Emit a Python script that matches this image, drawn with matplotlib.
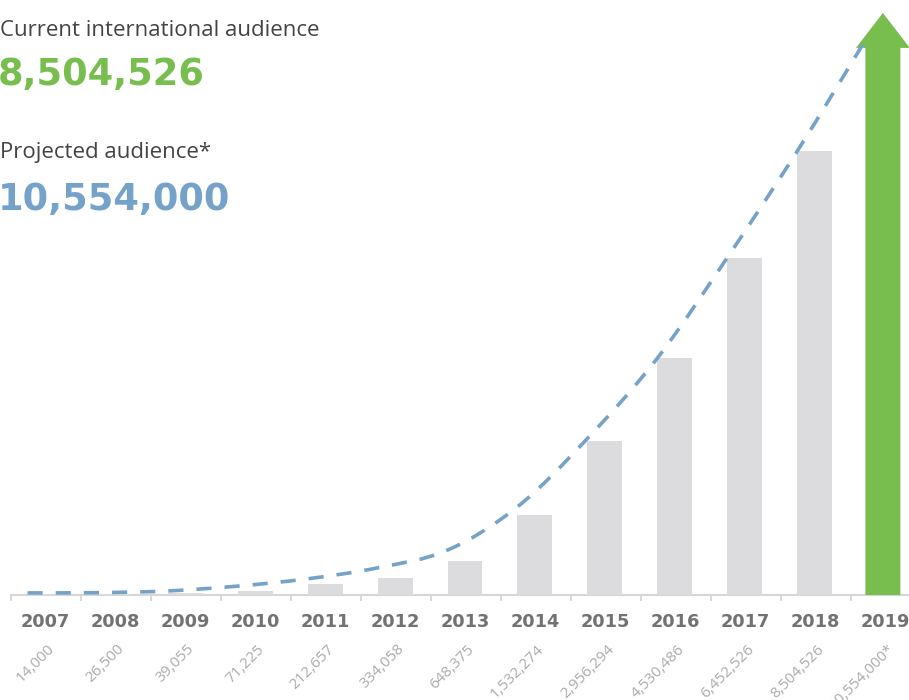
import matplotlib
matplotlib.use("Agg")
import matplotlib.pyplot as plt
from matplotlib.patches import FancyArrow, PathPatch
from matplotlib.path import Path
import numpy as np

plt.rcParams['font.family'] = ['Open Sans', 'DejaVu Sans']
bold_font = ['DejaVu Sans']

years = ['2007', '2008', '2009', '2010', '2011', '2012', '2013',
         '2014', '2015', '2016', '2017', '2018', '2019']
audience = [14000, 26500, 39055, 71225, 212657, 334058, 648375,
            1532274, 2956294, 4530486, 6452526, 8504526]
projected = 10554000
value_labels = ['14,000', '26,500', '39,055', '71,225', '212,657', '334,058',
                '648,375', '1,532,274', '2,956,294', '4,530,486', '6,452,526',
                '8,504,526', '10,554,000*']
# dashed growth trend (one point per year)
trend = [40000, 45000, 77000, 170000, 310000, 520000, 860000,
         1690000, 3000000, 4540000, 6470000, 8510000, 10540000]

green = '#78BE4E'
blue = '#75A2C8'
bar_gray = '#DCDCDE'

fig = plt.figure(figsize=(9.09, 7), dpi=100)
ax = fig.add_axes([0, 0, 1, 1])
ax.set_xlim(-0.643, 12.343)
ax.set_ylim(-2.0115e6, 11.398e6)
ax.axis('off')

x = np.arange(len(years))
bw = 0.5

# grey bars for actual audience
ax.bar(x[:-1], audience, width=bw, color=bar_gray, zorder=2)

# green arrow for the projection
ax.add_patch(FancyArrow(x[-1] - 0.03, 0, 0, 11.15e6, width=bw, head_width=0.77,
                        head_length=0.67e6, length_includes_head=True,
                        color=green, lw=0, zorder=2))

# smooth dashed trend (catmull-rom through the trend points)
tx = x - bw / 2
tx = tx.astype(float)
tx[-1] -= 0.07
pts = np.column_stack([tx, trend])
ext = np.vstack([pts[0], pts, pts[-1]])
verts = [pts[0]]
codes = [Path.MOVETO]
for i in range(1, len(ext) - 2):
    p0, p1, p2, p3 = ext[i - 1], ext[i], ext[i + 1], ext[i + 2]
    verts += [p1 + (p2 - p0) / 6, p2 - (p3 - p1) / 6, p2]
    codes += [Path.CURVE4] * 3
ax.add_patch(PathPatch(Path(verts, codes), fill=False, edgecolor=blue, lw=2.6,
                       linestyle=(0, (4.2, 3.6)), capstyle='butt', zorder=3))

# baseline + ticks
ticks = np.arange(len(years) + 1) - 0.48
ax.plot([ticks[0], 12.343], [0, 0], color='#D6D6D6', lw=1.5, zorder=1)
ax.vlines(ticks, -115000, 0, color='#D6D6D6', lw=1.3, zorder=1)

# year labels and values
for i, yr in enumerate(years):
    ax.text(x[i], 1 - 622 / 700, yr, transform=ax.get_xaxis_transform(),
            ha='center', va='center', fontsize=12.8, fontweight='bold',
            family=bold_font, color='#727272')
    ax.text(x[i] + 0.1, 1 - 647 / 700, value_labels[i],
            transform=ax.get_xaxis_transform(), rotation=45,
            rotation_mode='anchor', ha='right', va='center',
            fontsize=11, color='#ABABAB')

# headline text
fig.text(0, 1 - 36 / 700, 'Current international audience', fontsize=16,
         color='#444444', ha='left', va='baseline')
fig.text(-0.002, 1 - 85 / 700, '8,504,526', fontsize=26.5, fontweight='bold',
         family=bold_font, color=green, ha='left', va='baseline')
fig.text(0, 1 - 158 / 700, 'Projected audience*', fontsize=16,
         color='#444444', ha='left', va='baseline')
fig.text(-0.002, 1 - 210 / 700, '10,554,000', fontsize=26.5, fontweight='bold',
         family=bold_font, color=blue, ha='left', va='baseline')

fig.savefig('out.png', dpi=100)
